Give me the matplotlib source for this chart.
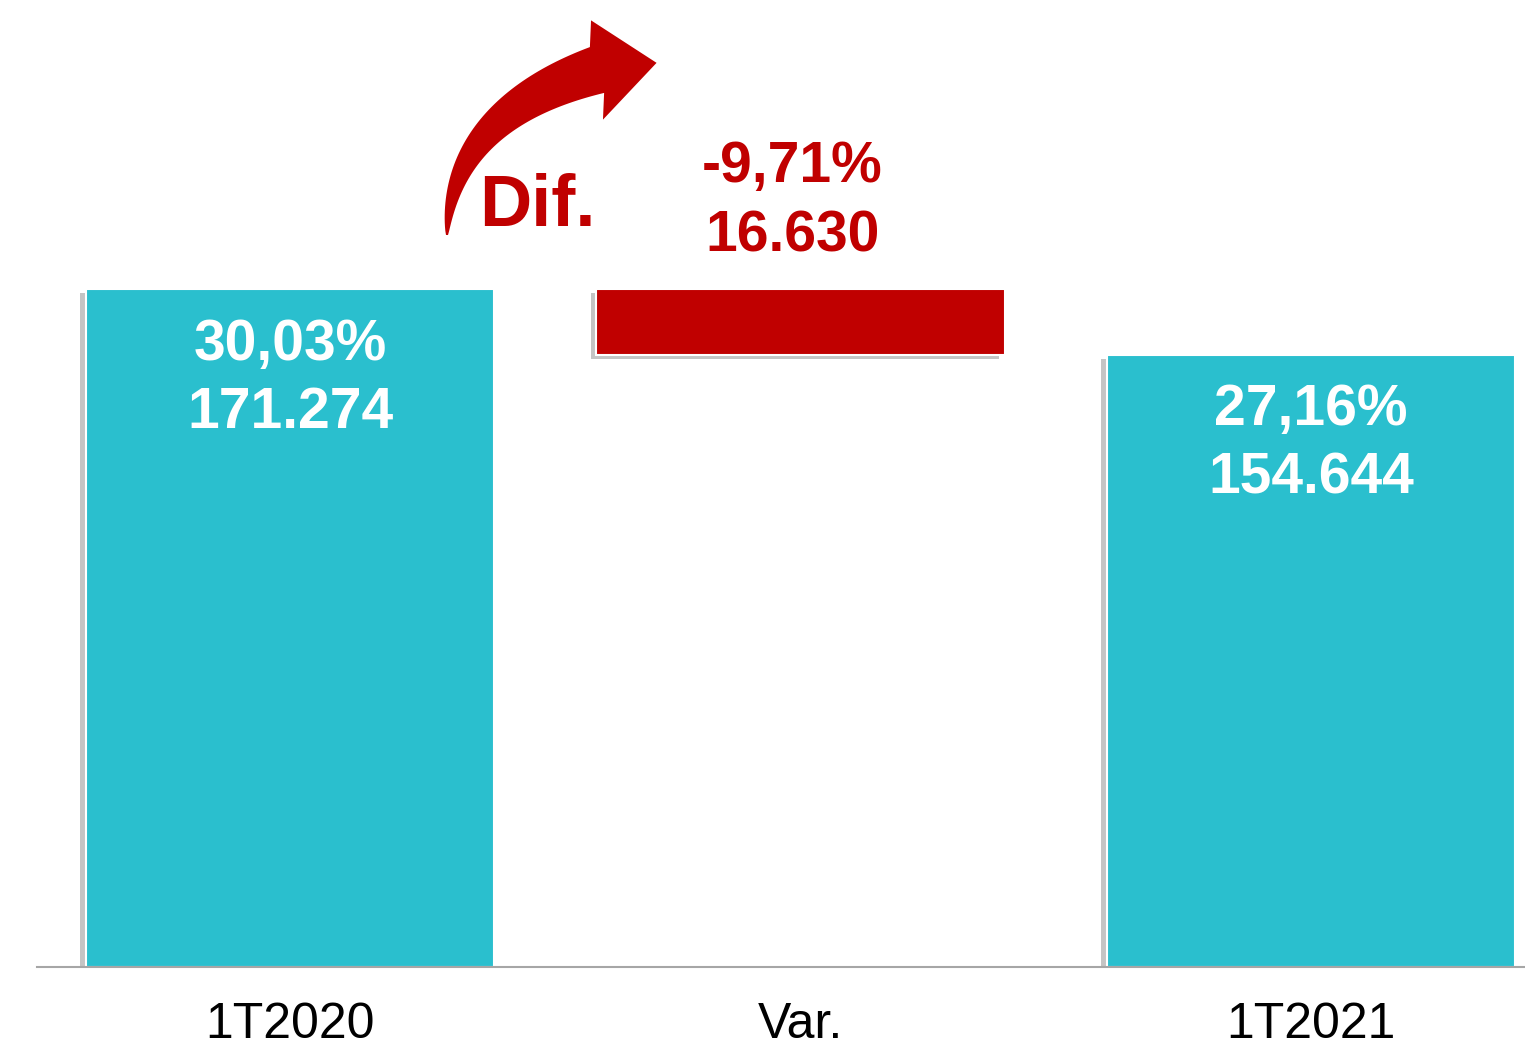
import numpy as np
import matplotlib.pyplot as plt
import matplotlib.patheffects as pe
from matplotlib.patches import Polygon

# Data
categories = ['1T2020', 'Var.', '1T2021']
start_value = 171274
end_value = 154644
diff_value = start_value - end_value
pct_labels = ['30,03%', '-9,71%', '27,16%']
value_labels = ['171.274', '16.630', '154.644']

teal = '#2ABFCE'
red = '#C00000'
W, H = 1525, 1050

plt.rcParams['font.family'] = ['Liberation Sans', 'DejaVu Sans']

fig = plt.figure(figsize=(W / 100, H / 100), dpi=100)
ax = fig.add_axes([37 / W, 83 / H, 1 - 37 / W, 967 / H])

shadow = [pe.SimplePatchShadow(offset=(-4, -3), shadow_rgbFace='#8a8a8a', alpha=0.5), pe.Normal()]

bottoms = [0, end_value, 0]
heights = [start_value, diff_value, end_value]
colors = [teal, red, teal]
bars = ax.bar(range(3), heights, bottom=bottoms, width=0.8, color=colors,
              edgecolor='white', linewidth=1.5)
for b in bars:
    b.set_path_effects(shadow)

# labels inside teal bars
for i in (0, 2):
    top = bottoms[i] + heights[i]
    ax.annotate(pct_labels[i], (i, top), xytext=(0, -40), textcoords='offset points',
                ha='center', va='center', color='white', fontsize=41, fontweight='bold')
    ax.annotate(value_labels[i], (i, top), xytext=(0, -89), textcoords='offset points',
                ha='center', va='center', color='white', fontsize=41, fontweight='bold')

# labels above red bar
top = bottoms[1] + heights[1]
ax.annotate(pct_labels[1], (1, top), xytext=(-6, 88), textcoords='offset points',
            ha='center', va='center', color=red, fontsize=41, fontweight='bold')
ax.annotate(value_labels[1], (1, top), xytext=(-6, 38), textcoords='offset points',
            ha='center', va='center', color=red, fontsize=41, fontweight='bold')

# curved tapered arrow (pixel coords, y downwards) with "Dif."
p0, p1, p2 = np.array([447, 235]), np.array([452, 115]), np.array([597, 70])
t = np.linspace(0, 1, 60)[:, None]
curve = (1 - t) ** 2 * p0 + 2 * (1 - t) * t * p1 + t ** 2 * p2
deriv = 2 * (1 - t) * (p1 - p0) + 2 * t * (p2 - p1)
tang = deriv / np.linalg.norm(deriv, axis=1, keepdims=True)
norm = np.column_stack([-tang[:, 1], tang[:, 0]])
half = (1 + 23 * t ** 0.8)
outer = curve + norm * half
inner = curve - norm * half
d = np.array([1.0, -0.12]) / np.hypot(1.0, 0.12)
n = np.array([-d[1], d[0]])
head = [p2 + n * 50, p2 + d * 60, p2 - n * 50]
pts = np.vstack([outer, [outer[-1], head[0]], [head[1]], [head[2], inner[-1]], inner[::-1]])
pts = np.column_stack([pts[:, 0] / W, 1 - pts[:, 1] / H])
fig.patches.append(Polygon(pts, closed=True, transform=fig.transFigure, color=red, lw=0))
fig.text(537 / W, 1 - 207 / H, 'Dif.', ha='center', va='center', color=red,
         fontsize=52, fontweight='bold')

ax.set_xlim(-0.496, 2.419)
ax.set_ylim(0, 244300)
ax.set_xticks(range(3))
ax.set_xticklabels(categories, fontsize=36)
ax.tick_params(axis='x', length=0, pad=25)
ax.set_yticks([])
for s in ['top', 'right', 'left']:
    ax.spines[s].set_visible(False)
ax.spines['bottom'].set_color('#A6A6A6')
ax.spines['bottom'].set_linewidth(1.5)

fig.savefig('out.png', dpi=100)
